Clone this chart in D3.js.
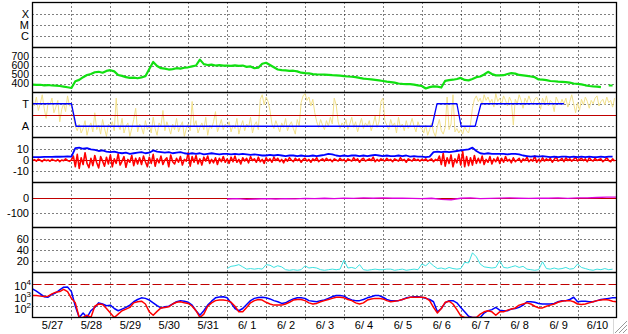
<!DOCTYPE html>
<html><head><meta charset="utf-8">
<script src="https://cdn.jsdelivr.net/npm/d3@7"></script>
<style>
body{margin:0;background:#fff;}
svg{display:block;}
text{font-family:"Liberation Sans",Arial,sans-serif;font-size:11px;fill:#000;white-space:pre;}
</style>
</head><body><svg id="c" width="628" height="334"></svg>
<script>
// ---------- DATA ----------
const dayLabels = ["5/27","5/28","5/29","5/30","5/31","6/ 1","6/ 2","6/ 3","6/ 4","6/ 5","6/ 6","6/ 7","6/ 8","6/ 9","6/10"];
const xrayTicks = [1e-4, 1e-5, 1e-6];
const xrayLabels = ["X", "M", "C"];
const speedTicks = [400, 500, 600, 700];
const sectorTicks = [1, -1];
const sectorLabels = ["T", "A"];
const bTicks = [10, 0, -10];
const dstTicks = [0, -100];
const kpTicks = [20, 40, 60];
const fluxTicks = [1e2, 1e3, 1e4];

// solar wind speed, every 0.1 day from 5/27 00:00 (null = gap)
const speedValues = [
 388,384,386,380,383,378,376,372,366,358,
 350,425,440,470,495,505,525,530,520,540,
 548,535,495,485,470,462,465,458,468,480,
 560,640,595,570,565,555,560,570,565,575,
 580,590,600,665,615,605,610,600,605,598,
 600,595,602,596,600,585,590,570,575,620,
 630,605,580,556,548,545,540,542,535,520,
 515,512,505,502,500,498,495,492,490,487,
 482,478,475,470,462,455,450,445,440,435,
 428,420,415,410,400,396,394,392,388,380,
 372,345,360,368,365,355,430,438,442,450,
 462,440,435,450,470,478,500,530,505,490,
 490,492,505,515,510,495,490,485,478,470,
 445,442,438,428,425,420,418,415,410,400,
 396,390,380,372,368,365,360,null,378,378];

// IMF angle (scaled: +2 top .. -2 bottom), every 0.05 day
const phiValues = [
 1.2,0.8,1.6,0.4,1.0,1.8,0.6,-0.3,1.1,0.9,1.5,0.2,0.7,1.3,-0.6,0.5,1.0,0.3,1.7,0.8,
 0.9,-0.2,-1.0,-1.4,-0.8,-1.6,-1.2,-0.5,-1.8,-1.1,-0.7,-1.5,0.2,-1.3,-0.9,-1.7,-0.4,-1.2,-1.9,-0.8,
 -1.1,-0.6,-1.4,1.5,-0.9,-1.3,-0.3,-1.6,-1.0,-0.7,-1.9,-1.2,-0.4,0.6,-1.5,-0.8,-1.1,-1.7,-0.5,-1.3,
 -0.9,-1.6,-0.2,-1.2,-1.8,-0.7,-1.0,0.4,-1.4,-0.6,-1.1,-1.7,-0.8,-1.3,-0.3,-1.5,-1.0,-0.6,-1.9,-1.2,
 -0.8,-1.4,1.2,-1.0,-0.5,-1.6,-1.1,-0.7,-1.3,-0.2,-1.8,-0.9,-1.2,-0.6,0.3,-1.5,-1.0,-0.4,-1.3,-0.8,
 -1.1,-0.6,-1.5,-0.9,-1.2,-0.3,-1.7,-1.0,-0.5,-1.4,-0.8,-1.1,-0.2,-1.6,-0.9,-0.6,-1.3,1.4,1.8,0.9,
 1.6,1.2,0.4,-0.8,-1.2,-0.5,-1.0,-1.5,-0.7,-1.1,-0.3,-1.4,-0.9,-0.6,-1.2,-1.7,-0.4,-1.0,1.1,1.7,
 1.9,1.3,1.6,0.8,1.4,0.2,-0.6,-1.1,-0.4,-0.9,-1.3,-0.5,-1.0,-0.2,-0.8,1.5,0.9,-0.6,-1.2,-0.7,
 -1.0,-0.4,-1.3,-0.8,-0.2,-1.1,-0.6,-1.5,-0.9,-0.3,-1.2,-0.7,-1.0,-0.5,-1.4,-0.8,-0.1,-1.1,-0.6,1.2,
 1.5,-0.5,-0.9,-1.3,-0.4,-1.0,-0.7,-1.6,-0.2,-1.1,-0.8,-1.4,-0.5,-1.2,-0.9,-0.3,-1.0,-1.5,-0.6,-1.1,
 -1.2,-1.6,-0.9,-1.8,-1.3,-0.7,-1.5,-1.9,-1.0,-0.4,-1.4,-1.7,-1.1,1.6,-1.3,-0.8,1.8,-1.5,-1.2,-1.6,
 -1.3,-1.7,-1.0,-1.4,-1.6,-0.8,0.6,1.4,1.7,1.2,1.5,0.9,1.8,1.3,1.6,1.1,1.4,0.7,1.9,1.2,
 1.5,1.0,1.7,1.3,0.8,1.6,1.2,-0.9,1.4,1.0,1.8,1.3,0.6,1.5,1.1,1.7,1.2,0.9,1.4,1.6,
 1.2,0.5,1.5,1.0,1.7,0.8,1.3,1.1,0.3,1.6,1.2,0.9,1.4,1.0,1.5,0.7,1.2,1.8,1.0,0.2,
 1.1,0.4,1.4,0.9,1.6,1.2,0.6,1.3,1.0,1.5,1.7,0.8,1.2,1.4,0.9,1.6,1.1,1.3,0.7,1.5];

// sector (T=+1, A=-1) breakpoints
const sectorTimes  = [0, 1.0, 1.12, 10.26, 10.39, 10.9, 11.01, 11.37, 11.52, 13.65];
const sectorValues = [1, 1, -1, -1, 1, 1, -1, -1, 1, 1];

// Bz (red), every 0.05 day
const bzValues = [
 -0.5,0.3,-1.0,0.8,-0.2,-1.4,0.5,-0.6,0.1,-1.1,0.6,-0.3,-0.9,0.4,-1.5,0.0,-0.7,1.0,-0.4,-1.2,
 0.2,3.5,-6.0,5.0,-7.5,2.0,-4.0,6.5,-3.0,-6.8,1.5,-5.0,4.0,-2.5,-7.0,3.0,-1.0,-5.5,2.5,-3.5,
 4.5,-6.0,1.0,-3.0,5.5,-4.5,-1.0,3.0,-6.5,0.5,-2.0,4.0,-5.0,1.5,-3.5,2.0,-4.0,3.5,-1.5,-6.0,
 2.5,-3.0,5.0,-5.5,1.0,-2.5,3.5,-4.0,0.0,2.0,-6.0,4.5,-1.5,-3.5,1.5,-2.0,3.0,-4.5,0.5,-1.0,
 6.5,-5.5,3.0,-2.0,4.0,-3.5,1.0,-4.5,2.5,-1.0,3.5,-3.0,0.5,-2.5,2.0,-4.0,1.5,-1.5,3.0,-2.0,
 1.0,-3.0,2.5,-1.5,3.5,-2.0,0.5,-3.5,2.0,-1.0,1.5,-2.5,3.0,-0.5,1.0,-2.0,2.5,-1.5,0.5,-3.0,
 2.0,-1.0,1.0,-2.0,2.5,-0.5,1.5,-1.5,0.5,-2.5,1.0,-1.0,2.0,0.0,-1.5,1.5,-0.5,1.0,-2.0,0.5,
 1.5,-1.0,0.5,-2.0,1.0,-0.5,2.0,-1.5,0.0,1.0,-1.0,1.5,-0.5,0.5,-1.5,1.0,0.0,-1.0,1.5,-0.5,
 0.5,-1.5,1.0,0.0,-1.0,2.0,-0.5,1.0,-2.0,0.5,1.5,-1.0,0.0,1.0,-0.5,2.5,-1.5,0.5,-1.0,1.0,
 0.0,-1.0,1.5,-0.5,0.5,-1.5,1.0,0.0,-1.0,2.0,-0.5,0.5,-2.0,1.0,0.0,-1.0,1.5,-0.5,0.5,-1.0,
 0.5,-0.5,1.0,-1.0,0.0,1.0,-1.5,0.5,-0.5,3.5,-4.0,6.0,-5.5,2.0,-3.0,4.5,-6.0,1.0,-2.5,5.0,
 -4.5,7.5,-6.0,3.0,-5.0,2.0,-4.5,4.0,-3.0,1.5,-2.5,3.5,-4.0,0.5,-2.0,3.0,-3.5,1.0,-1.5,2.5,
 -3.0,1.5,-2.0,3.0,-1.0,0.5,-2.5,2.0,-1.5,0.0,1.5,-2.0,1.0,-0.5,2.5,-1.5,0.5,-1.0,3.5,-2.0,
 0.5,-1.5,2.0,-1.0,1.0,-0.5,1.5,-2.0,0.5,3.0,-1.0,0.0,1.5,-1.5,2.0,-0.5,1.0,-1.0,0.5,2.5,
 -1.0,0.5,1.5,-0.5,1.0,-1.5,2.0,0.0,-1.0,1.5,-0.5,0.5,1.0,-1.5,0.0,2.0,-0.5,-1.5,1.0,-1.0];

// Bt (blue), every 0.1 day
const btValues = [
 2.5,2.5,2.6,2.8,2.7,2.8,3.0,2.9,3.0,3.1,
 3.0,10.5,11.0,10.0,10.5,9.5,9.0,8.0,8.5,7.5,
 7.0,7.5,6.5,6.0,6.5,5.5,6.0,6.5,7.0,6.0,
 6.5,8.5,7.5,7.0,6.5,7.0,6.0,6.5,7.0,6.0,
 5.5,6.0,5.5,6.0,5.0,5.5,6.0,5.5,5.0,5.5,
 5.5,5.0,5.5,5.0,5.5,5.0,4.5,5.0,4.5,4.0,
 4.0,4.5,4.0,4.5,4.0,3.5,4.0,4.0,3.5,4.0,
 3.5,3.5,4.0,3.5,4.0,4.5,5.5,5.0,4.0,3.5,
 4.0,3.5,4.0,4.0,3.5,4.0,3.5,4.0,4.5,4.0,
 3.5,4.0,3.5,3.5,4.0,3.5,4.0,3.0,3.5,3.0,
 3.0,2.5,3.0,7.0,7.5,7.0,7.5,7.0,7.5,8.0,
 8.5,9.0,9.5,11.0,8.0,6.0,5.5,6.0,5.5,5.5,
 5.5,5.5,5.0,5.5,5.5,5.0,4.0,3.5,3.0,3.5,
 3.0,3.5,3.0,2.5,3.0,2.5,3.0,3.0,2.5,3.0,
 2.5,3.0,2.5,3.0,2.5,2.5,3.0,2.5,3.0,3.0];

// Dst (magenta), every 0.25 day from 6/1
const dstStart = 5;
const dstValues = [-10,-8,-12,-10,-8,-10,-7,-9,-6,-8,-5,-7,-4,-6,-3,-5,-3,-5,-4,-6,
 -8,-5,-12,-15,-5,-2,-8,-6,-4,-3,-5,-6,-4,-5,-3,-6,-2,-3,0,2,3];

// cyan index, every 0.1 day from 6/1
const kpStart = 5;
const kpValues = [
 7,11,12,14,10,6,7,6,7,6,
 14,13,9,12,10,5,4,5,4,5,
 12,8,9,8,5,4,5,6,5,6,
 22,8,9,7,14,5,4,5,6,5,
 5,6,6,4,5,6,4,5,6,5,
 15,12,18,12,7,8,6,9,7,6,
 7,18,17,35,28,15,10,9,8,9,
 21,9,8,10,12,9,11,6,5,4,
 5,19,7,6,8,6,7,9,6,7,
 15,9,7,5,4,6,5,7,5,6];

// particle flux, every 0.1 day
const fluxBlue = [
 3500,2240,1260,710,630,1120,1580,2820,5010,5250,
 2000,100,7.9,25,6.3,40,79,200,158,112,
 126,63,40,56,79,126,251,398,562,501,
 355,200,112,71,89,100,158,251,316,282,
 224,126,40,16,40,126,282,562,660,708,
 562,200,63,40,63,141,316,501,603,631,
 562,447,316,251,178,200,316,447,562,562,
 501,316,282,251,316,355,501,708,891,891,
 794,501,355,316,316,398,562,708,891,891,
 631,398,316,316,316,398,562,631,708,708,
 631,501,398,251,32,63,200,316,316,200,
 79,32,13,6,8,6,25,40,50,79,
 45,40,40,56,63,79,126,251,251,224,
 178,158,158,158,178,251,316,316,398,631,
 251,282,282,251,251,316,398,447,501,562,562];
const fluxRed = [
 912,891,794,741,794,1260,1780,2000,3160,2000,
 501,200,6,5,16,6,100,158,141,63,
 25,6,20,40,56,79,200,251,282,158,
 32,16,35,71,79,89,158,224,251,200,
 178,100,40,10,20,100,200,316,355,355,
 316,224,100,32,32,79,200,316,398,355,
 224,158,126,126,126,158,224,355,398,398,
 316,200,158,178,251,316,398,501,631,631,
 562,398,316,200,158,200,355,447,501,501,
 447,316,251,282,316,398,501,631,631,631,
 631,562,316,79,25,63,224,282,158,50,
 14,8,6,5,6,20,32,40,32,16,
 32,32,45,56,71,126,158,200,158,100,
 71,71,100,126,158,224,282,316,316,251,
 158,141,158,200,251,316,355,398,355,282,251];

// ---------- LAYOUT ----------
const svg = d3.select("#c");
const L = 32.5, R = 616.5, T0 = 2.5, PH = 45;
const x = d3.scaleLinear().domain([0, 15]).range([L, R]);
const panelTop = i => T0 + PH * i;
const DARKRED = "#c00000";

const scales = [
  d3.scaleLog().domain([1e-7, 1e-3]).range([panelTop(1), panelTop(0)]),
  d3.scaleLinear().domain([300, 800]).range([panelTop(2), panelTop(1)]),
  d3.scaleLinear().domain([-2, 2]).range([panelTop(3), panelTop(2)]),
  d3.scaleLinear().domain([-20, 20]).range([panelTop(4), panelTop(3)]),
  d3.scaleLinear().domain([-200, 100]).range([panelTop(5), panelTop(4)]),
  d3.scaleLinear().domain([0, 80]).range([panelTop(6), panelTop(5)]),
  d3.scaleLog().domain([10, 1e5]).range([panelTop(7), panelTop(6)]).clamp(true)
];

// clip paths
const defs = svg.append("defs");
for (let i = 0; i < 7; i++) {
  defs.append("clipPath").attr("id", "clip" + i)
    .append("rect").attr("x", L).attr("y", panelTop(i)).attr("width", R - L).attr("height", PH);
}

// vertical day gridlines
const gridV = svg.append("g");
d3.range(1, 15).forEach(d => {
  const xx = Math.round(x(d)) + 0.5;
  gridV.append("line").attr("x1", xx).attr("x2", xx).attr("y1", panelTop(0)).attr("y2", 320)
    .attr("stroke", "#000").attr("stroke-width", 1).attr("stroke-dasharray", "1,3");
});

// horizontal grid + axis labels
function hGrid(scale, ticks, opts) {
  const g = svg.append("g");
  ticks.forEach(v => {
    const yy = Math.round(scale(v)) + 0.5;
    const special = opts && opts.special && opts.special(v);
    const ln = g.append("line").attr("x1", L).attr("x2", R).attr("y1", yy).attr("y2", yy);
    if (special) {
      ln.attr("stroke", DARKRED).attr("stroke-width", 1.2).attr("stroke-dasharray", special === "dash" ? "9,3" : null);
    } else {
      ln.attr("stroke", "#000").attr("stroke-dasharray", "1,3");
    }
  });
}
function yAxis(scale, ticks, fmt) {
  const ax = d3.axisLeft(scale).tickValues(ticks).tickSize(0).tickPadding(3.5).tickFormat(fmt);
  const g = svg.append("g").attr("transform", `translate(${L},0)`).call(ax);
  g.select(".domain").remove();
  g.selectAll("text").attr("font-family", null).attr("font-size", null);
  return g;
}

hGrid(scales[0], xrayTicks);
yAxis(scales[0], xrayTicks, (d, i) => xrayLabels[i]);
hGrid(scales[1], speedTicks);
yAxis(scales[1], speedTicks, d => d).selectAll("text").style("font-size", "10.5px");
hGrid(scales[2], sectorTicks);
yAxis(scales[2], sectorTicks, (d, i) => sectorLabels[i]);
hGrid(scales[3], bTicks, {special: v => v === 0 ? "solid" : null});
yAxis(scales[3], bTicks, d => d);
hGrid(scales[4], dstTicks, {special: v => v === 0 ? "solid" : null});
yAxis(scales[4], dstTicks, d => d);
hGrid(scales[5], kpTicks);
yAxis(scales[5], kpTicks, d => d);
hGrid(scales[6], fluxTicks, {special: v => v === 1e4 ? "dash" : null});
const fg = yAxis(scales[6], fluxTicks, d => d);
fg.selectAll("text").each(function(d) {
  const t = d3.select(this);
  t.text("").attr("x", -1.5).attr("dy", "0.55em");
  t.append("tspan").text("10");
  t.append("tspan").attr("dy", -5).style("font-size", "8px").text(Math.round(Math.log10(d)));
});

// ---------- DATA LINES ----------
function series(values, start, step) {
  return values.map((v, i) => [start + i * step, v]);
}
function drawLine(panel, data, color, width) {
  const s = scales[panel];
  const line = d3.line().defined(d => d[1] !== null).x(d => x(d[0])).y(d => s(d[1]));
  svg.append("path").attr("clip-path", `url(#clip${panel})`)
    .attr("d", line(data)).attr("fill", "none")
    .attr("stroke", color).attr("stroke-width", width).attr("stroke-linejoin", "round");
}

drawLine(1, series(speedValues, 0, 0.1), "#11e011", 2.2);
drawLine(2, series(phiValues, 0, 0.05), "#f2e08a", 1);
svg.append("line").attr("x1", L).attr("x2", R)
  .attr("y1", Math.round(scales[2](0)) + 0.5).attr("y2", Math.round(scales[2](0)) + 0.5)
  .attr("stroke", DARKRED).attr("stroke-width", 1.2);
drawLine(2, sectorTimes.map((t, i) => [t, sectorValues[i]]), "#0000ff", 1.3);
drawLine(3, series(bzValues, 0, 0.05), "#ff0000", 1.6);
drawLine(3, series(btValues, 0, 0.1), "#0000ff", 1.8);
drawLine(4, series(dstValues, dstStart, 0.25), "#dd00dd", 1.3);
drawLine(5, series(kpValues, kpStart, 0.1), "#3ce0e0", 1);
drawLine(6, series(fluxBlue, 0, 0.1), "#0000ff", 1.5);
drawLine(6, series(fluxRed, 0, 0.1), "#ff0000", 1.5);

// ---------- FRAME ----------
const frame = svg.append("g").attr("fill", "none").attr("stroke", "#000").attr("stroke-width", 1.3);
frame.append("rect").attr("x", L).attr("y", panelTop(0)).attr("width", R - L).attr("height", PH * 7);
for (let i = 1; i < 7; i++) {
  frame.append("line").attr("x1", L).attr("x2", R).attr("y1", panelTop(i)).attr("y2", panelTop(i));
}

// bottom axis
const bx = d3.axisBottom(x).tickValues(d3.range(15).map(d => d + 0.5))
  .tickSize(0).tickPadding(4).tickFormat((d, i) => dayLabels[i]);
const bg = svg.append("g").attr("transform", `translate(0,${panelTop(7)})`).call(bx);
bg.select(".domain").remove();
bg.selectAll("text").attr("font-family", null).attr("font-size", null);

// resize grip
const grip = svg.append("g").attr("stroke-width", 1);
grip.append("line").attr("x1", 613.5).attr("x2", 613.5).attr("y1", 319).attr("y2", 334).attr("stroke", "#d8d8d8");
[[615, 333, 627, 321], [619, 333, 627, 325], [623, 333, 627, 329]].forEach(p => {
  grip.append("line").attr("x1", p[0]).attr("y1", p[1]).attr("x2", p[2]).attr("y2", p[3]).attr("stroke", "#999");
  grip.append("line").attr("x1", p[0] + 1).attr("y1", p[1]).attr("x2", p[2]).attr("y2", p[3] + 1).attr("stroke", "#fff");
});
</script>
</body></html>
